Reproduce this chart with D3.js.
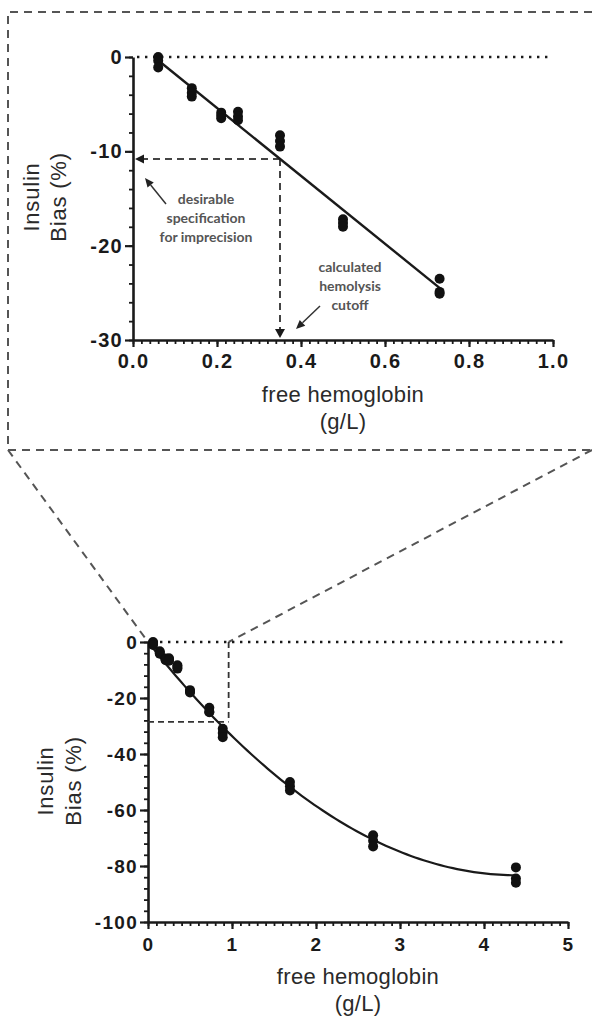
<!DOCTYPE html>
<html><head><meta charset="utf-8">
<script src="https://cdn.jsdelivr.net/npm/d3@7"></script>
<style>
html,body{margin:0;padding:0;background:#fff;}
svg{display:block;}
</style></head>
<body>
<svg id="chart" width="592" height="1016"></svg>
<script>
// ---------- data ----------
const hbLevels = [0.06, 0.14, 0.21, 0.25, 0.35, 0.50, 0.73, 0.89, 1.69, 2.68, 4.38];
const biasReps = [
  [0.0, -0.4, -1.1],
  [-3.3, -3.8, -4.2],
  [-5.9, -6.2, -6.5],
  [-5.8, -6.3, -6.7],
  [-8.3, -8.9, -9.5],
  [-17.2, -17.6, -18.0],
  [-23.5, -24.9, -25.1],
  [-31.0, -32.5, -34.0],
  [-50.0, -51.5, -53.0],
  [-69.0, -71.0, -73.0],
  [-80.5, -84.5, -86.0]
];
const topLinearFit = [1.8, -36.0];            // intercept, slope
const bottomPolyFit = [0.0, -37.9, 4.31];     // c0, c1, c2
const topXTicks = [0, 0.2, 0.4, 0.6, 0.8, 1.0];
const topYTicks = [0, -10, -20, -30];
const botXTicks = [0, 1, 2, 3, 4, 5];
const botYTicks = [0, -20, -40, -60, -80, -100];
const cutoffHb = 0.35;
const impSpec = -10.8;
const zoomBox = [0.96, -28.5];
const xTitle = ["free hemoglobin", "(g/L)"];
const yTitle = ["Insulin", "Bias (%)"];
const note1 = ["desirable", "specification", "for imprecision"];
const note2 = ["calculated", "hemolysis", "cutoff"];

const points = [];
hbLevels.forEach((x, i) => biasReps[i].forEach(y => points.push({x, y})));

// ---------- setup ----------
const svg = d3.select("#chart");
const INK = "#1a1a1a";
const DASH = "#555";

const xT = d3.scaleLinear().domain([0, 1]).range([133, 553]);
const yT = d3.scaleLinear().domain([0, -30]).range([57, 340]);
const xB = d3.scaleLinear().domain([0, 5]).range([148, 568]);
const yB = d3.scaleLinear().domain([0, -100]).range([642, 922]);

// outer zoom frame
const frame = svg.append("g").attr("fill", "none").attr("stroke", DASH)
  .attr("stroke-width", 2).attr("stroke-dasharray", "8,6");
frame.append("path").attr("d", `M592,12 H8 V450 H592`);
frame.append("line").attr("x1", 8).attr("y1", 450).attr("x2", xB(0)).attr("y2", yB(0));
frame.append("line").attr("x1", 592).attr("y1", 450).attr("x2", xB(zoomBox[0])).attr("y2", yB(0));

function drawAxes(x, y, xTicks, yTicks, xMinorStep, yMinorStep, xFmt, labelSize, xPad) {
  const g = svg.append("g");
  const [x0, x1] = x.domain();
  const [y0, y1] = y.domain();
  const xMinor = d3.range(x0, x1 + xMinorStep / 2, xMinorStep);
  const yMinor = d3.range(y0, y1 - yMinorStep / 2, -yMinorStep);
  g.append("g").attr("transform", `translate(0,${y(y1)})`)
    .call(d3.axisBottom(x).tickValues(xMinor).tickSize(4).tickFormat(""))
    .call(s => s.select(".domain").remove())
    .selectAll("line").attr("stroke", INK).attr("stroke-width", 1.8);
  g.append("g").attr("transform", `translate(${x(x0)},0)`)
    .call(d3.axisLeft(y).tickValues(yMinor).tickSize(4).tickFormat(""))
    .call(s => s.select(".domain").remove())
    .selectAll("line").attr("stroke", INK).attr("stroke-width", 1.8);
  const ax = g.append("g").attr("transform", `translate(0,${y(y1)})`)
    .call(d3.axisBottom(x).tickValues(xTicks).tickSize(7).tickPadding(xPad).tickSizeOuter(0).tickFormat(xFmt));
  const ay = g.append("g").attr("transform", `translate(${x(x0)},0)`)
    .call(d3.axisLeft(y).tickValues(yTicks).tickSize(8).tickPadding(2).tickSizeOuter(0).tickFormat(d => String(d)));
  [ax, ay].forEach(a => {
    a.select(".domain").attr("stroke", INK).attr("stroke-width", 2.6);
    a.selectAll(".tick line").attr("stroke", INK).attr("stroke-width", 2.2);
    a.selectAll(".tick text").attr("fill", INK).attr("font-family", "Liberation Sans, Arial, sans-serif")
      .attr("font-weight", "bold").attr("font-size", labelSize).attr("letter-spacing", 1.3);
  });
  g.append("line").attr("x1", x(x0) + 4).attr("x2", x(x1)).attr("y1", y(0)).attr("y2", y(0))
    .attr("stroke", INK).attr("stroke-width", 2.4).attr("stroke-dasharray", "2.4,5.6");
  return g;
}

function titles(cx, cy, yx1, yx2, yc) {
  const tf = "Liberation Sans, Arial, sans-serif";
  [0, 1].forEach(i => svg.append("text").attr("x", cx).attr("y", cy + i * 27).attr("text-anchor", "middle")
    .attr("font-family", tf).attr("font-size", 22).attr("letter-spacing", 0.3)
    .attr("fill", "#2a2a2a").text(xTitle[i]));
  [yx1, yx2].forEach((xx, i) => {
    svg.append("text").attr("transform", `translate(${xx},${yc}) rotate(-90)`)
      .attr("text-anchor", "middle").attr("font-family", tf).attr("font-size", 22)
      .attr("letter-spacing", 0.8).attr("fill", "#2a2a2a").text(yTitle[i]);
  });
}

// ---------- top chart ----------
drawAxes(xT, yT, topXTicks, topYTicks, 0.02, 2, d3.format(".1f"), 20, 7);
titles(343, 402, 39, 66, 197);

const topPts = points.filter(p => p.y >= -30 && p.x <= 1);
const guide = svg.append("g").attr("stroke", "#444").attr("stroke-width", 2).attr("fill", "none")
  .attr("stroke-dasharray", "7,5");
guide.append("line").attr("x1", xT(cutoffHb)).attr("y1", yT(impSpec)).attr("x2", xT(0) + 10).attr("y2", yT(impSpec));
guide.append("line").attr("x1", xT(cutoffHb)).attr("y1", yT(impSpec)).attr("x2", xT(cutoffHb)).attr("y2", yT(-30) - 10);
svg.append("path").attr("fill", INK)
  .attr("d", `M${xT(0) + 2},${yT(impSpec)} l9,-4.5 v9 z`);
svg.append("path").attr("fill", INK)
  .attr("d", `M${xT(cutoffHb)},${yT(-30) - 2} l-5,-9 h10 z`);

const lineT = d3.line().x(d => xT(d)).y(d => yT(topLinearFit[0] + topLinearFit[1] * d));
svg.append("path").datum([0.064, 0.735]).attr("d", lineT).attr("fill", "none")
  .attr("stroke", INK).attr("stroke-width", 2.4);

svg.append("g").selectAll("circle").data(topPts).join("circle")
  .attr("cx", d => xT(d.x)).attr("cy", d => yT(d.y)).attr("r", 5).attr("fill", "#111");

const nf = "Lato, Open Sans, sans-serif";
note1.forEach((t, i) => svg.append("text").attr("x", 206).attr("y", 204 + i * 19)
  .attr("text-anchor", "middle").attr("font-family", nf).attr("font-weight", "bold")
  .attr("font-size", 14).attr("fill", "#555").text(t));
note2.forEach((t, i) => svg.append("text").attr("x", 350).attr("y", 272 + i * 19)
  .attr("text-anchor", "middle").attr("font-family", nf).attr("font-weight", "bold")
  .attr("font-size", 14).attr("fill", "#555").text(t));
function arrow(x1, y1, x2, y2) {
  const ang = Math.atan2(y2 - y1, x2 - x1);
  const L = 9, W = 4;
  const bx = x2 - L * Math.cos(ang), by = y2 - L * Math.sin(ang);
  svg.append("line").attr("x1", x1).attr("y1", y1).attr("x2", bx).attr("y2", by)
    .attr("stroke", "#333").attr("stroke-width", 1.5);
  svg.append("path").attr("fill", "#222").attr("d",
    `M${x2},${y2} L${bx + W * Math.sin(ang)},${by - W * Math.cos(ang)} L${bx - W * Math.sin(ang)},${by + W * Math.cos(ang)} Z`);
}
arrow(166, 204, 145, 178);
arrow(320, 306, 296, 329);

// ---------- bottom chart ----------
drawAxes(xB, yB, botXTicks, botYTicks, 0.1, 4, d => String(d), 19, 9);
titles(358, 984, 53, 81, 781);

const box = svg.append("g").attr("stroke", "#333").attr("stroke-width", 1.8).attr("fill", "none")
  .attr("stroke-dasharray", "6,4");
box.append("line").attr("x1", xB(zoomBox[0])).attr("y1", yB(0)).attr("x2", xB(zoomBox[0])).attr("y2", yB(zoomBox[1]));
box.append("line").attr("x1", xB(0)).attr("y1", yB(zoomBox[1])).attr("x2", xB(zoomBox[0])).attr("y2", yB(zoomBox[1]));

const curveXs = d3.range(0.03, 4.40, 0.05).concat([4.4]);
const lineB = d3.line().x(d => xB(d))
  .y(d => yB(bottomPolyFit[0] + bottomPolyFit[1] * d + bottomPolyFit[2] * d * d)).curve(d3.curveBasis);
svg.append("path").datum(curveXs).attr("d", lineB).attr("fill", "none")
  .attr("stroke", INK).attr("stroke-width", 2.2);

svg.append("g").selectAll("circle").data(points).join("circle")
  .attr("cx", d => xB(d.x)).attr("cy", d => yB(d.y)).attr("r", 5).attr("fill", "#111");
</script>
</body></html>
